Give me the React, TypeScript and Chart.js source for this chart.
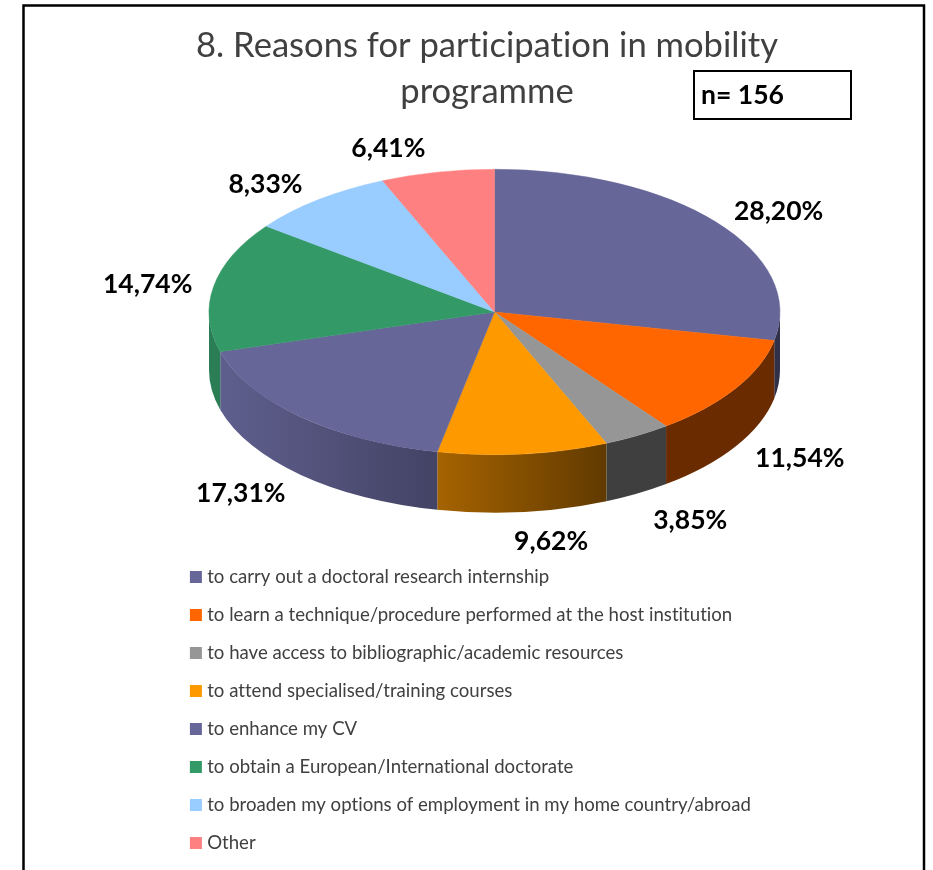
import React, { useEffect, useRef } from "react";
import { Chart, registerables } from "chart.js";

Chart.register(...registerables);

const categories = [
  "to carry out a doctoral research internship",
  "to learn a technique/procedure performed at the host institution",
  "to have access to bibliographic/academic resources",
  "to attend specialised/training courses",
  "to enhance my CV",
  "to obtain a European/International doctorate",
  "to broaden my options of employment in my home country/abroad",
  "Other",
];
const shares = [28.2, 11.54, 3.85, 9.62, 17.31, 14.74, 8.33, 6.41];
const sliceColors = ["#666699", "#FF6600", "#969696", "#FF9900", "#666699", "#339966", "#99CCFF", "#FF8080"];
const titleLines = ["8. Reasons for participation in mobility", "programme"];
const sampleNote = "n= 156";

// Styling only: side wall brightness [left end, right end] per slice
const wallShades: [number, number][] = [
  [0.47, 0.47], [0.42, 0.42], [0.42, 0.42], [0.65, 0.38], [0.93, 0.66], [0.82, 0.82], [1, 1], [1, 1],
];
// Styling only: label nudges from the rim of each slice
const labelNudges: [number, number][] = [
  [63, -10], [64, 70], [53, 85], [28, 87], [-60, 77], [-66, -2], [-53, -15], [-49, -24],
];

const FONT = "Lato, Carlito, sans-serif";
const PIE = { cx: 494.5, cy: 312, rx: 285.5, squash: 0.5, depth: 58 };
const FRAME = { l: 23.5, t: 5.5, r: 924, b: 880 };
const NOTE = { l: 694, t: 71, w: 157, h: 48 };
const LEGEND = { x: 174.5, y: 548.3 };

const shade = (hex: string, f: number) => {
  const n = parseInt(hex.slice(1), 16);
  const c = (v: number) => Math.round(v * f);
  return `rgb(${c((n >> 16) & 255)},${c((n >> 8) & 255)},${c(n & 255)})`;
};
const fmt = (v: number) => v.toFixed(2).replace(".", ",") + "%";

const piePlugin = {
  id: "pie3d",
  beforeDraw(chart: any) {
    const { ctx, width, height } = chart;
    // tiny spacing switches off the ti ligature that Calibri-style text does not show
    ctx.letterSpacing = "0.01px";
    ctx.save();
    ctx.fillStyle = "#ffffff";
    ctx.fillRect(0, 0, width, height);
    ctx.strokeStyle = "#000000";
    ctx.lineWidth = 2.5;
    ctx.strokeRect(FRAME.l, FRAME.t, FRAME.r - FRAME.l, FRAME.b - FRAME.t);
    ctx.restore();
  },
  afterLayout(chart: any) {
    const lg = chart.legend;
    const w = lg.width;
    const h = lg.height;
    lg.left = LEGEND.x;
    lg.top = LEGEND.y;
    lg.right = LEGEND.x + w + 10;
    lg.bottom = LEGEND.y + h + 10;
  },
  beforeDatasetsDraw(chart: any) {
    const { ctx } = chart;
    const arcs = chart.getDatasetMeta(0).data;
    const ry = PIE.rx * PIE.squash;
    arcs.forEach((arc: any, i: number) => {
      const a = Math.max(arc.startAngle, 0);
      const b = Math.min(arc.endAngle, Math.PI);
      if (b <= a) return;
      const x0 = PIE.cx + PIE.rx * Math.cos(a);
      const x1 = PIE.cx + PIE.rx * Math.cos(b);
      const g = ctx.createLinearGradient(Math.min(x0, x1), 0, Math.max(x0, x1), 0);
      g.addColorStop(0, shade(sliceColors[i], wallShades[i][0]));
      g.addColorStop(1, shade(sliceColors[i], wallShades[i][1]));
      ctx.save();
      ctx.fillStyle = g;
      ctx.beginPath();
      ctx.ellipse(PIE.cx, PIE.cy, PIE.rx, ry, 0, a, b);
      ctx.ellipse(PIE.cx, PIE.cy + PIE.depth, PIE.rx, ry, 0, b, a, true);
      ctx.closePath();
      ctx.fill();
      ctx.restore();
    });
    const c = arcs[0];
    ctx.save();
    ctx.translate(PIE.cx, PIE.cy);
    ctx.scale(PIE.rx / c.outerRadius, PIE.squash * (PIE.rx / c.outerRadius));
    ctx.translate(-c.x, -c.y);
  },
  afterDatasetsDraw(chart: any) {
    const { ctx } = chart;
    ctx.restore();
    const arcs = chart.getDatasetMeta(0).data;
    const ry = PIE.rx * PIE.squash;
    ctx.save();
    ctx.fillStyle = "#000000";
    ctx.font = `bold 26.5px ${FONT}`;
    ctx.textAlign = "center";
    ctx.textBaseline = "middle";
    arcs.forEach((arc: any, i: number) => {
      const mid = (arc.startAngle + arc.endAngle) / 2;
      const x = PIE.cx + PIE.rx * Math.cos(mid) + labelNudges[i][0];
      const y = PIE.cy + ry * Math.sin(mid) + labelNudges[i][1];
      ctx.fillText(fmt(shares[i]), x, y);
    });
    ctx.restore();
  },
  afterDraw(chart: any) {
    const { ctx } = chart;
    ctx.save();
    ctx.strokeStyle = "#000000";
    ctx.lineWidth = 2;
    ctx.strokeRect(NOTE.l, NOTE.t, NOTE.w, NOTE.h);
    ctx.fillStyle = "#000000";
    ctx.font = `bold 26.5px ${FONT}`;
    ctx.textAlign = "left";
    ctx.textBaseline = "middle";
    ctx.fillText(sampleNote, NOTE.l + 7, NOTE.t + NOTE.h / 2);
    ctx.restore();
  },
};

export default function App() {
  const ref = useRef<HTMLCanvasElement>(null);
  useEffect(() => {
    document.body.style.overflow = "hidden";
    const chart = new Chart(ref.current!, {
      type: "pie",
      data: {
        labels: categories,
        datasets: [
          {
            data: shares,
            backgroundColor: sliceColors,
            borderColor: sliceColors,
            borderWidth: 0.6,
            clip: false,
          } as any,
        ],
      },
      options: {
        responsive: false,
        animation: false,
        radius: 285,
        layout: { padding: { left: 41, right: 0, top: 23, bottom: 0 } },
        plugins: {
          title: {
            display: true,
            text: titleLines,
            color: "#404040",
            font: { family: FONT, size: 34.6, weight: "normal", lineHeight: 1.33 },
            padding: { top: 0, bottom: 0 },
          },
          legend: {
            display: true,
            position: "chartArea",
            align: "start",
            labels: {
              // a small box with a thick same-colour outline keeps the text close to the swatch
              boxWidth: 4,
              boxHeight: 4,
              padding: 19.4,
              color: "#404040",
              font: { family: FONT, size: 18.6 },
              generateLabels(chart: any) {
                return Chart.overrides.pie.plugins.legend.labels
                  .generateLabels(chart)
                  .map((item: any) => ({ ...item, lineWidth: 8, strokeStyle: item.fillStyle }));
              },
            },
          },
          tooltip: { enabled: false },
        },
      } as any,
      plugins: [piePlugin],
    });
    return () => chart.destroy();
  }, []);
  return (
    <canvas
      ref={ref}
      width={933}
      height={870}
      style={{ position: "absolute", left: 0, top: 0, display: "block" }}
    />
  );
}
